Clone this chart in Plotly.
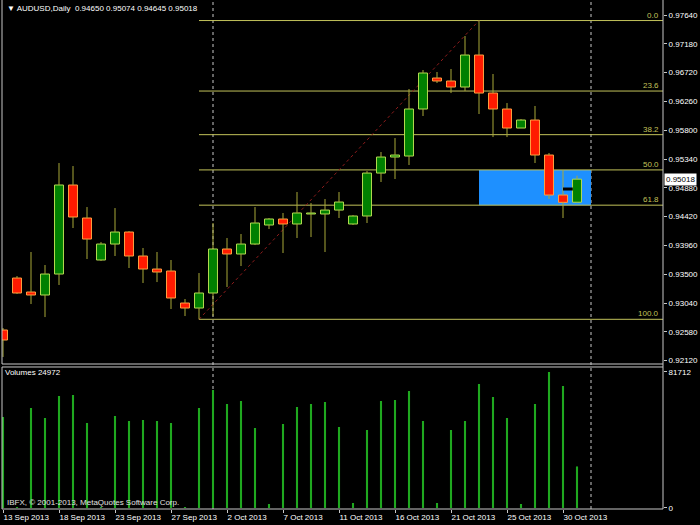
import plotly.graph_objects as go

# ---------------- data ----------------
dates = ["13 Sep 2013", "15 Sep 2013", "16 Sep 2013", "17 Sep 2013", "18 Sep 2013", "19 Sep 2013",
         "20 Sep 2013", "22 Sep 2013", "23 Sep 2013", "24 Sep 2013", "25 Sep 2013", "26 Sep 2013",
         "27 Sep 2013", "29 Sep 2013", "30 Sep 2013", "1 Oct 2013", "2 Oct 2013", "3 Oct 2013",
         "4 Oct 2013", "6 Oct 2013", "7 Oct 2013", "8 Oct 2013", "9 Oct 2013", "10 Oct 2013",
         "11 Oct 2013", "13 Oct 2013", "14 Oct 2013", "15 Oct 2013", "16 Oct 2013", "17 Oct 2013",
         "18 Oct 2013", "20 Oct 2013", "21 Oct 2013", "22 Oct 2013", "23 Oct 2013", "24 Oct 2013",
         "25 Oct 2013", "27 Oct 2013", "28 Oct 2013", "29 Oct 2013", "30 Oct 2013", "31 Oct 2013"]

opens = [0.92609, 0.93439, 0.93216, 0.93168, 0.93503, 0.94925, 0.94398, 0.93727, 0.93982, 0.94174,
         0.93791, 0.93583, 0.93551, 0.93040, 0.92960, 0.93200, 0.93903, 0.93823, 0.93982, 0.94286,
         0.94382, 0.94302, 0.94462, 0.94462, 0.94525, 0.94302, 0.94430, 0.95116, 0.95372, 0.95388,
         0.96139, 0.96634, 0.96586, 0.96490, 0.97001, 0.96394, 0.96139, 0.95835, 0.95963, 0.95404,
         0.94765, 0.94650]
highs = [0.92641, 0.93471, 0.93855, 0.93647, 0.95276, 0.95228, 0.94573, 0.94014, 0.94557, 0.94190,
         0.93919, 0.93855, 0.93727, 0.93104, 0.93519, 0.94318, 0.94078, 0.94142, 0.94573, 0.94398,
         0.94478, 0.94813, 0.94637, 0.94701, 0.94813, 0.94446, 0.95148, 0.95452, 0.95675, 0.96458,
         0.96762, 0.96730, 0.96778, 0.97305, 0.97552, 0.96698, 0.96234, 0.95979, 0.96187, 0.95436,
         0.95164, 0.95074]
lows = [0.92178, 0.93184, 0.93024, 0.92816, 0.93328, 0.94238, 0.93743, 0.93711, 0.93791, 0.93599,
        0.93360, 0.93375, 0.92944, 0.92832, 0.92780, 0.92830, 0.93296, 0.93631, 0.93966, 0.94222,
        0.93839, 0.94078, 0.94094, 0.93855, 0.94398, 0.94286, 0.94318, 0.94973, 0.95021, 0.95244,
        0.96027, 0.96554, 0.96394, 0.96426, 0.96059, 0.95691, 0.95691, 0.95835, 0.95276, 0.94701,
        0.94398, 0.94645]
closes = [0.92449, 0.93200, 0.93168, 0.93503, 0.94925, 0.94414, 0.94062, 0.93982, 0.94174, 0.93791,
          0.93583, 0.93535, 0.93120, 0.92960, 0.93200, 0.93903, 0.93823, 0.93982, 0.94318, 0.94382,
          0.94302, 0.94478, 0.94478, 0.94525, 0.94653, 0.94430, 0.95116, 0.95372, 0.95404, 0.96139,
          0.96714, 0.96586, 0.96490, 0.97001, 0.96394, 0.96139, 0.95835, 0.95963, 0.95404, 0.94765,
          0.94648, 0.95018]
volumes = [54675, 250, 60082, 54074, 67292, 67893, 51070, 250, 55276, 52272,
           52873, 52272, 51070, 250, 60082, 70897, 62485, 64288, 48066, 2403,
           50469, 60683, 62485, 63687, 48667, 3004, 46864, 64288, 64889, 70296,
           52272, 3004, 46864, 52272, 74502, 66691, 54074, 2403, 62485, 81712,
           73300, 24972]

price_ticks = [0.97640, 0.97180, 0.96720, 0.96260, 0.95800, 0.95340, 0.94880,
               0.94420, 0.93960, 0.93500, 0.93040, 0.92580, 0.92120]
volume_ticks = [0, 81712]
date_tick_idx = [0, 4, 8, 12, 16, 20, 24, 28, 32, 36, 40]
fib_levels = [0.0, 23.6, 38.2, 50.0, 61.8, 100.0]
fib_low_idx = 14
fib_high_idx = 34
zone_start_idx = 34
vline_idx = [15, 42]
marker_price = 0.94861
marker_idx = 40

# ---------------- styles ----------------
BG = "#000000"
BULL_FILL = "#008000"
BULL_EDGE = "#B4DC50"
BEAR_FILL = "#FF1A00"
BEAR_EDGE = "#FFA040"
WICK = "#A8A838"
FIB = "#C2C25A"
BORDER = "#C8C8C8"
VOL = "#1FA81F"
FONT = "Liberation Sans"
FS = 8

n = len(opens)
xs = list(range(n))

# wicks (split so they never cross the body)
wx, wy = [], []
for i in xs:
    top = max(opens[i], closes[i])
    bot = min(opens[i], closes[i])
    wx += [i, i, None, i, i, None]
    wy += [highs[i], top, None, bot, lows[i], None]

bull = [i for i in xs if closes[i] >= opens[i]]
bear = [i for i in xs if closes[i] < opens[i]]

fig = go.Figure()
fig.add_trace(go.Scatter(x=wx, y=wy, mode="lines", line=dict(color=WICK, width=1),
                         xaxis="x", yaxis="y", hoverinfo="skip"))
fig.add_trace(go.Bar(x=bull, y=[abs(closes[i] - opens[i]) for i in bull],
                     base=[min(opens[i], closes[i]) for i in bull], width=0.64,
                     marker=dict(color=BULL_FILL, line=dict(color=BULL_EDGE, width=1)),
                     opacity=1, xaxis="x", yaxis="y"))
fig.add_trace(go.Bar(x=bear, y=[abs(closes[i] - opens[i]) for i in bear],
                     base=[min(opens[i], closes[i]) for i in bear], width=0.64,
                     marker=dict(color=BEAR_FILL, line=dict(color=BEAR_EDGE, width=1)),
                     opacity=1, xaxis="x", yaxis="y"))
fig.add_trace(go.Scatter(x=[marker_idx, marker_idx + 0.7], y=[marker_price, marker_price],
                         mode="lines", line=dict(color="#000000", width=3),
                         xaxis="x", yaxis="y", hoverinfo="skip"))
fig.add_trace(go.Bar(x=xs, y=volumes, width=0.15, marker=dict(color=VOL, line=dict(width=0)),
                     opacity=1, xaxis="x", yaxis="y2"))

# fibonacci
hi = highs[fib_high_idx]
lo = lows[fib_low_idx]
fib_prices = [hi - (hi - lo) * lv / 100.0 for lv in fib_levels]

shapes = []
# blue zone between 50.0 and 61.8
shapes.append(dict(type="rect", xref="x", yref="y", x0=zone_start_idx, x1=vline_idx[1],
                   y0=fib_prices[4], y1=fib_prices[3], fillcolor="#1E90FF",
                   line=dict(width=0), layer="below"))
for v in vline_idx:
    shapes.append(dict(type="line", xref="x", yref="paper", x0=v, x1=v, y0=0, y1=1,
                       line=dict(color="#C8C8C8", width=1, dash="dot"), layer="below"))
for p in fib_prices:
    shapes.append(dict(type="line", xref="x", yref="y", x0=fib_low_idx, x1=47.2, y0=p, y1=p,
                       line=dict(color=FIB, width=1), layer="below"))
shapes.append(dict(type="line", xref="x", yref="y", x0=fib_low_idx, y0=lo, x1=fib_high_idx, y1=hi,
                   line=dict(color="#8E1C1C", width=1, dash="dot"), layer="below"))

MAIN_BOT = 0.28487
VOL_TOP = 0.27898
for (x0, y0, x1, y1) in [(0, MAIN_BOT, 0, 1), (0, MAIN_BOT, 1, MAIN_BOT),
                         (0, 0, 0, VOL_TOP), (0, VOL_TOP, 1, VOL_TOP), (0, 0, 1, 0),
                         (1, 0, 1, 1)]:
    shapes.append(dict(type="line", xref="paper", yref="paper", x0=x0, y0=y0, x1=x1, y1=y1,
                       line=dict(color=BORDER, width=1), layer="above"))

annotations = []
for lv, p in zip(fib_levels, fib_prices):
    annotations.append(dict(xref="paper", yref="y", x=1, y=p, xanchor="right", yanchor="bottom",
                            xshift=-2, yshift=-1, text=f"{lv:.1f}", showarrow=False,
                            font=dict(family=FONT, size=FS, color=FIB)))
annotations.append(dict(xref="paper", yref="paper", x=0, y=1, xanchor="left", yanchor="top",
                        xshift=3, yshift=-2, showarrow=False,
                        text=f"▼ AUDUSD,Daily  {opens[-1]:.5f} {highs[-1]:.5f} {lows[-1]:.5f} {closes[-1]:.5f}",
                        font=dict(family=FONT, size=FS, color="#FFFFFF")))
annotations.append(dict(xref="paper", yref="y2 domain", x=0, y=1, xanchor="left", yanchor="top",
                        xshift=1, yshift=1, showarrow=False, text=f"Volumes {volumes[-1]}",
                        font=dict(family=FONT, size=FS, color="#FFFFFF")))
annotations.append(dict(xref="paper", yref="y2 domain", x=0, y=0, xanchor="left", yanchor="bottom",
                        xshift=3, yshift=0, showarrow=False,
                        text="IBFX, © 2001-2013, MetaQuotes Software Corp.",
                        font=dict(family=FONT, size=FS, color="#E0E0E0")))
annotations.append(dict(xref="paper", yref="y", x=1, y=closes[-1], xanchor="left", yanchor="middle",
                        xshift=1, showarrow=False, text=f"{closes[-1]:.5f}", bgcolor="#FFFFFF",
                        borderpad=1, font=dict(family=FONT, size=FS, color="#000000")))

fig.update_layout(
    width=700, height=525,
    margin=dict(l=2, r=37, t=0, b=16, autoexpand=False),
    paper_bgcolor=BG, plot_bgcolor=BG,
    showlegend=False, hovermode=False, barmode="overlay",
    shapes=shapes, annotations=annotations,
    xaxis=dict(domain=[0, 1], anchor="y2", range=[-0.0714, 47.143], showgrid=False,
               zeroline=False, showline=False, tickmode="array", tickvals=date_tick_idx,
               ticktext=[dates[i] for i in date_tick_idx], ticks="outside", ticklen=3,
               tickcolor=BORDER, ticklabelposition="outside right", tickangle=0,
               automargin=False,
               tickfont=dict(family=FONT, size=FS, color="#FFFFFF")),
    yaxis=dict(domain=[MAIN_BOT, 1], anchor="x", side="right", range=[0.92066, 0.97880],
               showgrid=False, zeroline=False, showline=False, tickmode="array",
               tickvals=price_ticks, ticktext=[f"{t:.5f}" for t in price_ticks],
               ticks="outside", ticklen=3, tickcolor=BORDER, automargin=False,
               tickfont=dict(family=FONT, size=FS, color="#FFFFFF")),
    yaxis2=dict(domain=[0, VOL_TOP], anchor="x", side="right", range=[-601, 84716],
                showgrid=False, zeroline=False, showline=False, tickmode="array",
                tickvals=volume_ticks, ticktext=[str(v) for v in volume_ticks],
                ticks="outside", ticklen=3, tickcolor=BORDER, automargin=False,
                tickfont=dict(family=FONT, size=FS, color="#FFFFFF")),
)

fig.write_html("out.html", config={"displayModeBar": False},
               post_script="document.body.style.margin='0';document.body.style.overflow='hidden';")
